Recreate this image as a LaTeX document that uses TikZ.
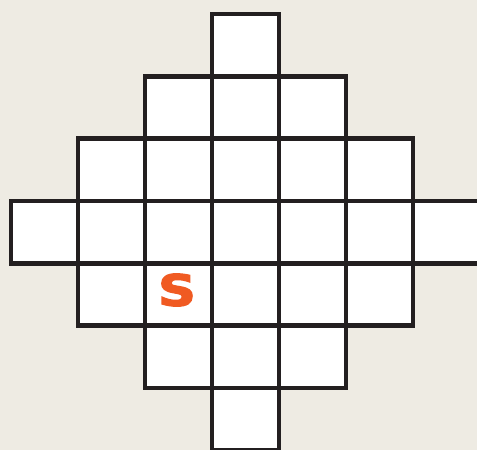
\documentclass[tikz,border=0pt]{standalone}
\usepackage{fontspec}
\font\heavyS="DejaVu Sans Bold:embolden=3" at 43pt
\definecolor{bgbeige}{HTML}{EEEBE3}
\definecolor{gridink}{HTML}{231F20}
\definecolor{sorange}{HTML}{F05A22}
\begin{document}
\begin{tikzpicture}[x=1pt,y=-1pt,
  cellfill/.style={minimum width=67pt,minimum height=62.3pt,inner sep=0pt,outer sep=0pt,fill=white},
  gridline/.style={draw=gridink,line width=4.6pt},
  letter/.style={text=sorange,inner sep=0pt,font=\heavyS}]
\fill[bgbeige] (0,0) rectangle (477,450);
\useasboundingbox (0,0) rectangle (477,450);
\begin{scope}
\clip (0,0) rectangle (477,450);
\foreach \j/\a/\b in {0/3/3,1/2/4,2/1/5,3/0/6,4/1/5,5/2/4,6/3/3}{
  \foreach \c in {\a,...,\b}{
    \node[cellfill] (c-\j-\c) at ({44.5+67*\c},{45.15+62.3*\j}) {};
  }
}
\foreach \j/\a/\b in {0/3/3,1/2/4,2/1/5,3/0/6,4/1/5,5/2/4,6/3/3}{
  \foreach \c in {\a,...,\b}{
    \draw[gridline] (c-\j-\c.north west) rectangle (c-\j-\c.south east);
  }
}
\end{scope}
\node[letter] (s) at (177,290) {\scalebox{1.22}[1]{S}};
\end{tikzpicture}
\end{document}
